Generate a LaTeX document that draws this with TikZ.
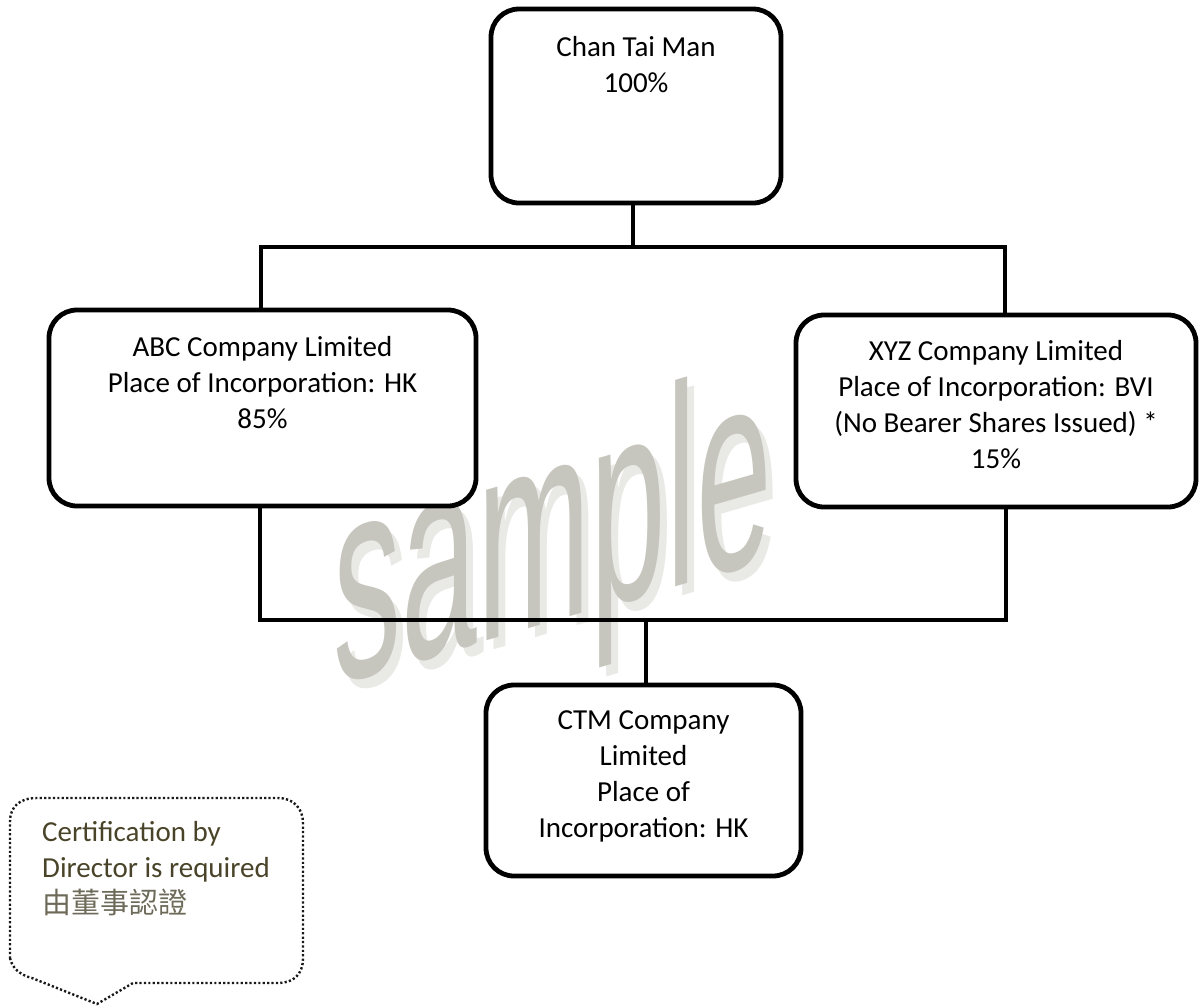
\documentclass[tikz,border=0pt]{standalone}
\usepackage{fontspec}
\setmainfont{Carlito}
\newfontfamily\cjkfont{Noto Sans CJK TC}
\newfontfamily\wmfont{Liberation Sans}
\definecolor{wm}{RGB}{198,198,190}
\definecolor{wmshadow}{RGB}{233,233,230}
\definecolor{note}{HTML}{494429}
\definecolor{notecjk}{RGB}{110,106,90}
\begin{document}
\begin{tikzpicture}[x=1pt,y=1pt,
  orgbox/.style={draw, line width=4.8pt, rounded corners=28pt, fill=white, inner sep=0pt},
  conn/.style={line width=3.3pt},
  boxtext/.style={anchor=north, align=center, inner sep=0pt, font=\fontsize{29}{36}\selectfont},
  wmtext/.style={transform shape, anchor=base, inner sep=0pt, font=\wmfont\fontsize{100}{100}\selectfont},
  calloutline/.style={line width=2.4pt, dash pattern=on 2.2pt off 2.2pt, draw=black!90},
  notetext/.style={anchor=north west, align=left, inner sep=0pt, text=note, font=\fontsize{29}{36}\selectfont}]
\useasboundingbox (0,0) rectangle (1199,-1007);

% watermark
\begin{scope}[shift={(560,-631)}, yslant=0.29, xscale=1.36, yscale=2.85]
  \node[wmtext, text=wmshadow] (wmshadow) at (0,0) {sample};
\end{scope}
\begin{scope}[shift={(553,-622)}, yslant=0.29, xscale=1.36, yscale=2.85]
  \node[wmtext, text=wm] (wmmain) at (0,0) {sample};
\end{scope}

% boxes (geometry)
\node[orgbox, minimum width=290, minimum height=194] (top) at (636,-106) {};
\node[orgbox, minimum width=427, minimum height=196] (abc) at (262.5,-408) {};
\node[orgbox, minimum width=400, minimum height=192] (xyz) at (996,-411) {};
\node[orgbox, minimum width=315, minimum height=191] (ctm) at (643.5,-780.5) {};

% connector junctions
\coordinate (tm) at (633,-247);
\coordinate (tl) at (261,-247);
\coordinate (tr) at (1005,-247);
\coordinate (bl) at (260,-620);
\coordinate (br) at (1006,-620);
\coordinate (bm) at (646,-620);

\draw[conn] (top.south -| tm) -- (tm);
\draw[conn] (abc.north -| tl) -- (tl) -- (tr) -- (xyz.north -| tr);
\draw[conn] (abc.south -| bl) -- (bl) -- (br) -- (xyz.south -| br);
\draw[conn] (bm) -- (ctm.north -| bm);

% box texts
\node[boxtext] (toptxt) at ([yshift=-30]top.north) {Chan Tai Man\\100\%};
\node[boxtext] (abctxt) at ([yshift=-29]abc.north) {ABC Company Limited\\Place of Incorporation: HK\\85\%};
\node[boxtext] (xyztxt) at ([yshift=-28]xyz.north) {XYZ Company Limited\\Place of Incorporation: BVI\\(No Bearer Shares Issued) *\\15\%};
\node[boxtext] (ctmtxt) at ([yshift=-28]ctm.north) {CTM Company\\Limited\\Place of\\Incorporation: HK};

% callout
\draw[calloutline] (10,-958) .. controls (12,-968) and (20,-975) .. (32,-978)
  -- (97,-1004) -- (133,-983) -- (278,-983)
  .. controls (293,-983) and (303,-975) .. (303,-958) -- (303,-823)
  .. controls (303,-808) and (293,-798) .. (278,-798) -- (37,-798)
  .. controls (20,-798) and (10,-806) .. (10,-822) -- cycle;
\node[notetext] (note) at (42,-821) {Certification by\\Director is required\\{\cjkfont\color{notecjk}由董事認證}};
\end{tikzpicture}
\end{document}
